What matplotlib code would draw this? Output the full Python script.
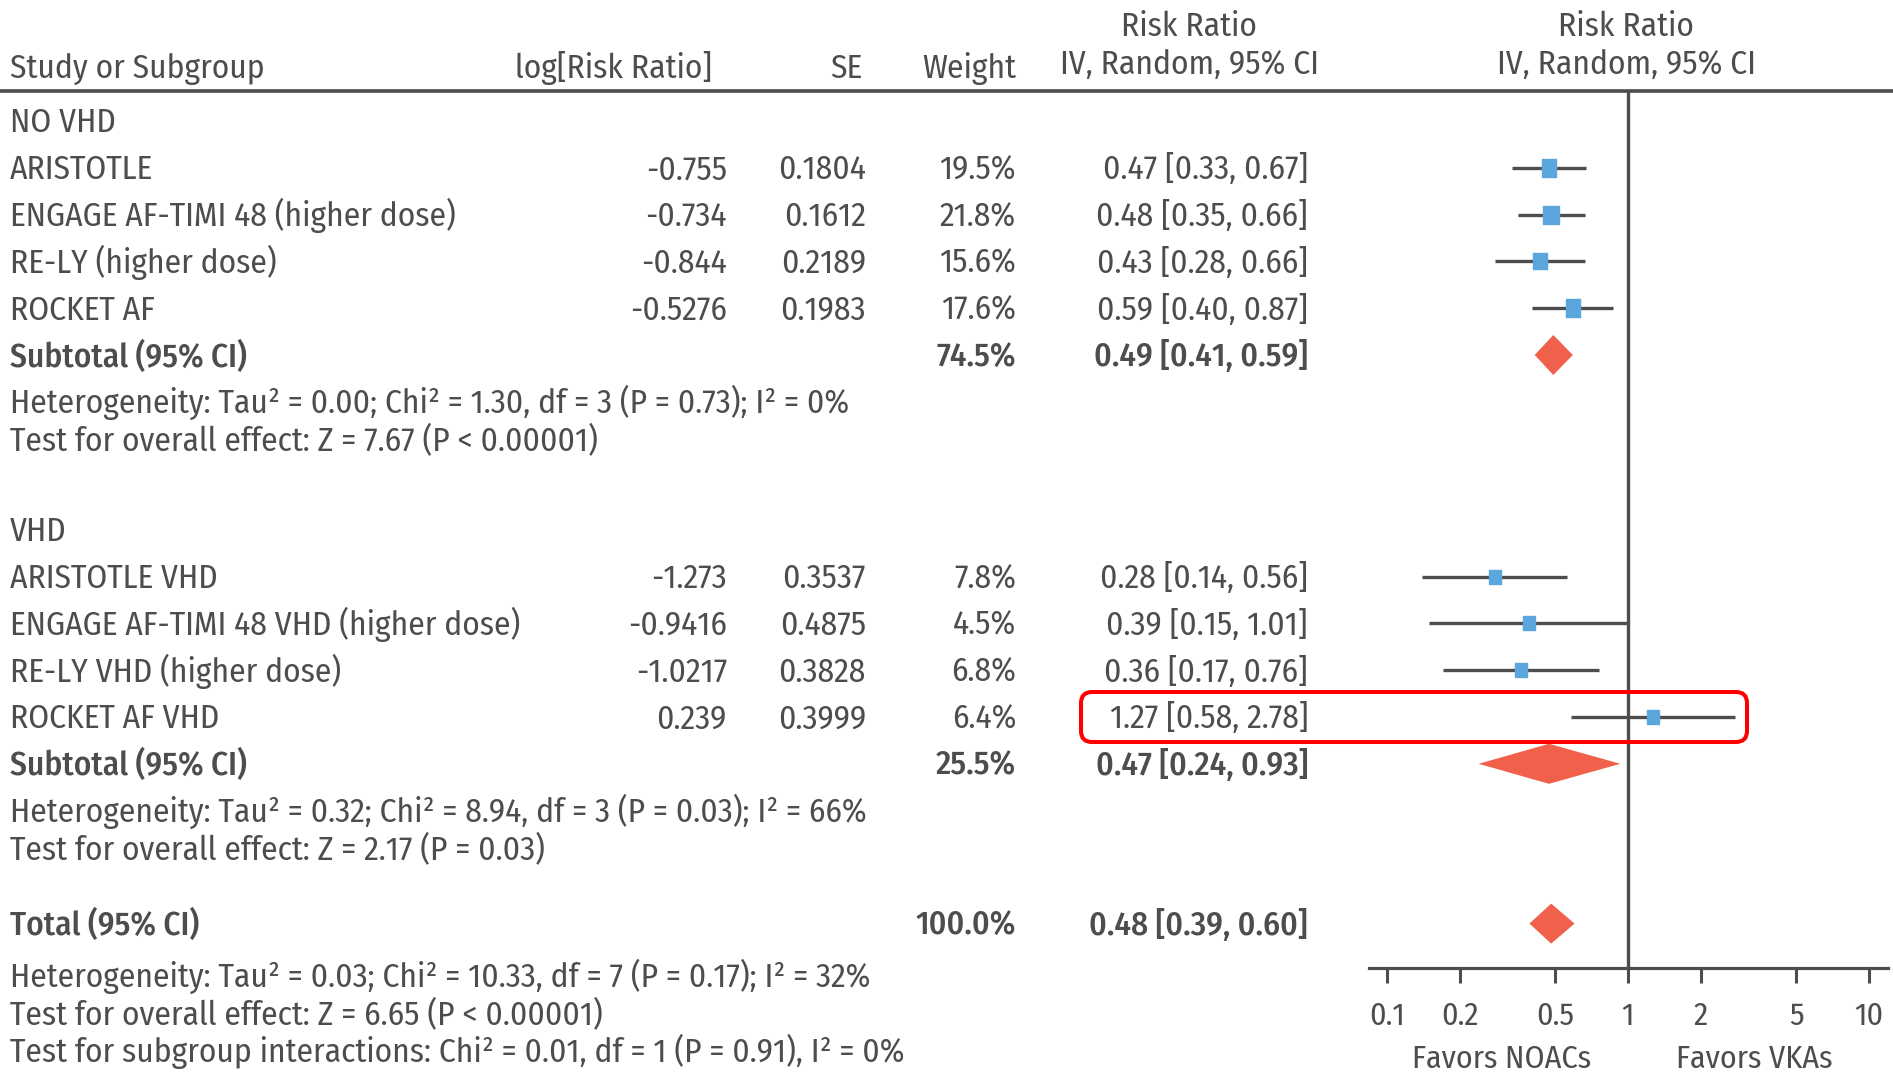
import matplotlib
matplotlib.use('Agg')
import matplotlib.pyplot as plt
from matplotlib import font_manager
from matplotlib.patches import FancyBboxPatch
from matplotlib.path import Path

# pick a condensed sans that is installed
available = {f.name for f in font_manager.fontManager.ttflist}
family = 'DejaVu Sans'
for cand in ['Fira Sans Condensed', 'Ubuntu Condensed', 'PT Sans Narrow', 'IBM Plex Sans Condensed']:
    if cand in available:
        family = cand
        break
plt.rcParams['font.family'] = [family, 'DejaVu Sans']

# ---- data ----
no_vhd_studies = ["ARISTOTLE", "ENGAGE AF-TIMI 48 (higher dose)", "RE-LY (higher dose)", "ROCKET AF"]
no_vhd_logrr = [-0.755, -0.734, -0.844, -0.5276]
no_vhd_se = [0.1804, 0.1612, 0.2189, 0.1983]
no_vhd_weight = [19.5, 21.8, 15.6, 17.6]
no_vhd_rr = [0.47, 0.48, 0.43, 0.59]
no_vhd_lo = [0.33, 0.35, 0.28, 0.40]
no_vhd_hi = [0.67, 0.66, 0.66, 0.87]
no_vhd_sub = [74.5, 0.49, 0.41, 0.59]  # weight, rr, lo, hi

vhd_studies = ["ARISTOTLE VHD", "ENGAGE AF-TIMI 48 VHD (higher dose)", "RE-LY VHD (higher dose)", "ROCKET AF VHD"]
vhd_logrr = [-1.273, -0.9416, -1.0217, 0.239]
vhd_se = [0.3537, 0.4875, 0.3828, 0.3999]
vhd_weight = [7.8, 4.5, 6.8, 6.4]
vhd_rr = [0.28, 0.39, 0.36, 1.27]
vhd_lo = [0.14, 0.15, 0.17, 0.58]
vhd_hi = [0.56, 1.01, 0.76, 2.78]
vhd_sub = [25.5, 0.47, 0.24, 0.93]

total = [100.0, 0.48, 0.39, 0.60]

no_vhd_notes = ["Heterogeneity: Tau² = 0.00; Chi² = 1.30, df = 3 (P = 0.73); I² = 0%",
                "Test for overall effect: Z = 7.67 (P < 0.00001)"]
vhd_notes = ["Heterogeneity: Tau² = 0.32; Chi² = 8.94, df = 3 (P = 0.03); I² = 66%",
             "Test for overall effect: Z = 2.17 (P = 0.03)"]
total_notes = ["Heterogeneity: Tau² = 0.03; Chi² = 10.33, df = 7 (P = 0.17); I² = 32%",
               "Test for overall effect: Z = 6.65 (P < 0.00001)",
               "Test for subgroup interactions: Chi² = 0.01, df = 1 (P = 0.91), I² = 0%"]

tick_vals = [0.1, 0.2, 0.5, 1, 2, 5, 10]
tick_labels = ["0.1", "0.2", "0.5", "1", "2", "5", "10"]

# ---- styling ----
TXT = '#4d4d4d'
LINE = '#4d4d4d'
SQ = '#5ba6dd'
DIA = '#f0604a'
FS = 24
W, H = 1893, 1073
PITCH = 46.8
BASE = 11.5  # baseline offset below a row centre (px)

# x positions of the text columns (px)
X_NAME, X_LOG, X_SE, X_WT, X_CI = 10, 727, 866, 1016, 1308
X_CI_HEAD, X_FOREST_HEAD = 1189, 1626

fig = plt.figure(figsize=(W / 100, H / 100), dpi=100)
tax = fig.add_axes([0, 0, 1, 1])
tax.set_xlim(0, W)
tax.set_ylim(H, 0)
tax.axis('off')
tax.set_zorder(3)
tax.patch.set_alpha(0)

# forest plot panel: from the header rule down to the x axis
top_rule, axis_y = 90.5, 968
fx0, fx1 = 1369, 1888
fax = fig.add_axes([fx0 / W, (H - axis_y) / H, (fx1 - fx0) / W, (axis_y - top_rule) / H])
fax.set_xscale('log')
decade = 241.0
fax.set_xlim(10 ** (-1 - (1387 - fx0) / decade), 10 ** (1 + (fx1 - 1869) / decade))
fax.set_ylim(axis_y, top_rule)
for s in ['top', 'left', 'right']:
    fax.spines[s].set_visible(False)
fax.spines['bottom'].set_color(LINE)
fax.spines['bottom'].set_linewidth(2.3)
fax.set_yticks([])
fax.set_xticks(tick_vals)
fax.set_xticklabels(tick_labels)
fax.minorticks_off()
fax.tick_params(axis='x', direction='out', length=11, width=2.2, color=LINE,
                labelcolor=TXT, labelsize=FS - 1, pad=13)
fax.axvline(1, color=LINE, lw=2.4, zorder=1)
fax.patch.set_alpha(0)

# tall box marker for study estimates
rect_marker = Path([(-0.42, -0.5), (0.42, -0.5), (0.42, 0.5), (-0.42, 0.5), (-0.42, -0.5)],
                   [Path.MOVETO, Path.LINETO, Path.LINETO, Path.LINETO, Path.CLOSEPOLY])


def put(x, y, s, ha='left', bold=False):
    tax.text(x, y + BASE, s, ha=ha, va='baseline', fontsize=FS, color=TXT,
             fontweight='medium' if bold else 'normal')


def ci_text(rr, lo, hi):
    return f"{rr:.2f} [{lo:.2f}, {hi:.2f}]"


def study_row(y, name, logrr, se, wt, rr, lo, hi):
    put(X_NAME, y, name)
    put(X_LOG, y, str(logrr), ha='right')
    put(X_SE, y, str(se), ha='right')
    put(X_WT, y, f"{wt:.1f}%", ha='right')
    put(X_CI, y, ci_text(rr, lo, hi), ha='right')
    fax.hlines(y, lo, hi, color=LINE, lw=2.4, zorder=2)
    ms = (10 + 1.7 * wt ** 0.5) * 0.72
    fax.plot([rr], [y], ls='none', marker=rect_marker, ms=ms, color=SQ, mec=SQ, zorder=3)


def pooled_row(y, label, vals):
    wt, rr, lo, hi = vals
    put(X_NAME, y, label, bold=True)
    put(X_WT, y, f"{wt:.1f}%", ha='right', bold=True)
    put(X_CI, y, ci_text(rr, lo, hi), ha='right', bold=True)
    fax.fill([lo, rr, hi, rr], [y, y - 20, y, y + 20], color=DIA, lw=0, zorder=3)


# header
tax.plot([0, W], [top_rule, top_rule], color=LINE, lw=2.6, solid_capstyle='butt')
hdr1, hdr2 = 36, 78
tax.text(X_NAME, hdr2, "Study or Subgroup", fontsize=FS, color=TXT, va='baseline')
tax.text(712, hdr2, "log[Risk Ratio]", fontsize=FS, color=TXT, va='baseline', ha='right')
tax.text(862, hdr2, "SE", fontsize=FS, color=TXT, va='baseline', ha='right')
tax.text(X_WT, hdr2, "Weight", fontsize=FS, color=TXT, va='baseline', ha='right')
for xc in (X_CI_HEAD, X_FOREST_HEAD):
    tax.text(xc, hdr1, "Risk Ratio", fontsize=FS, color=TXT, va='baseline', ha='center')
    tax.text(xc, hdr2 - 4, "IV, Random, 95% CI", fontsize=FS, color=TXT, va='baseline', ha='center')

# NO VHD group
y = 121
put(X_NAME, y, "NO VHD")
for i in range(len(no_vhd_studies)):
    y += PITCH
    study_row(y, no_vhd_studies[i], no_vhd_logrr[i], no_vhd_se[i], no_vhd_weight[i],
              no_vhd_rr[i], no_vhd_lo[i], no_vhd_hi[i])
y += PITCH
pooled_row(y, "Subtotal (95% CI)", no_vhd_sub)
y += PITCH
put(X_NAME, y, no_vhd_notes[0])
y += 37
put(X_NAME, y, no_vhd_notes[1])

# VHD group
y += 91
put(X_NAME, y, "VHD")
for i in range(len(vhd_studies)):
    y += PITCH
    study_row(y, vhd_studies[i], vhd_logrr[i], vhd_se[i], vhd_weight[i],
              vhd_rr[i], vhd_lo[i], vhd_hi[i])
    if i == len(vhd_studies) - 1:
        # highlight box around the ROCKET AF VHD estimate
        tax.add_patch(FancyBboxPatch((1081, y - 25), 1747 - 1081, 50,
                                     boxstyle='round,pad=0,rounding_size=11',
                                     ec='#ff0000', fc='none', lw=2.9, zorder=5))
y += PITCH
pooled_row(y, "Subtotal (95% CI)", vhd_sub)
y += PITCH
put(X_NAME, y, vhd_notes[0])
y += 37
put(X_NAME, y, vhd_notes[1])

# overall
y += 76
pooled_row(y, "Total (95% CI)", total)
y += 52
for note in total_notes:
    put(X_NAME, y, note)
    y += 37.5

# favours labels under the axis
fax.text(0.3, 1068, "Favors NOACs", transform=fax.transData, ha='center', va='baseline',
         fontsize=FS - 1, color=TXT, clip_on=False)
fax.text(3.35, 1068, "Favors VKAs", transform=fax.transData, ha='center', va='baseline',
         fontsize=FS - 1, color=TXT, clip_on=False)

fig.savefig("out.png", dpi=100)
